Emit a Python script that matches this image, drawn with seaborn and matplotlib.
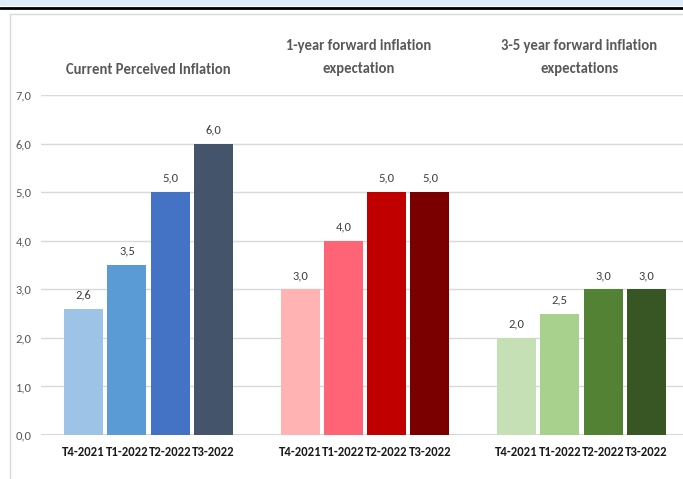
import matplotlib
matplotlib.use("Agg")
import matplotlib.pyplot as plt
from matplotlib import font_manager as fm
from matplotlib.lines import Line2D
from matplotlib.patches import Rectangle
import seaborn as sns
import pandas as pd

groups = ["Current Perceived Inflation",
          "1-year forward inflation\nexpectation",
          "3-5 year forward inflation\nexpectations"]
quarters = ["T4-2021", "T1-2022", "T2-2022", "T3-2022"]
current_perceived = [2.6, 3.5, 5.0, 6.0]
one_year_forward = [3.0, 4.0, 5.0, 5.0]
three_five_year_forward = [2.0, 2.5, 3.0, 3.0]
colors = [
    ["#9DC3E6", "#5B9BD5", "#4472C4", "#44546A"],
    ["#FFB3B3", "#FF6376", "#C00000", "#7A0000"],
    ["#C5E0B4", "#A9D18E", "#548235", "#375623"],
]

rows = []
for g, vals in zip(groups, [current_perceived, one_year_forward, three_five_year_forward]):
    for q, v in zip(quarters, vals):
        rows.append({"group": g, "quarter": q, "value": v})
df = pd.DataFrame(rows)

sns.set_theme(style="white")
available = set(f.name for f in fm.fontManager.ttflist)
chosen = "DejaVu Sans"
for cand in ["Carlito", "Liberation Sans Narrow", "Open Sans Condensed",
             "Roboto Condensed", "Fira Sans Condensed", "PT Sans Narrow",
             "Archivo Narrow", "DejaVu Sans Condensed"]:
    if cand in available:
        chosen = cand
        break
plt.rcParams["font.family"] = [chosen, "DejaVu Sans"]

W, H = 683, 479
fig = plt.figure(figsize=(W / 100, H / 100), dpi=100)
ax = fig.add_axes([41 / W, 44 / H, (W - 41) / W, (435 - 95) / H])

sns.barplot(data=df, x="group", y="value", hue="quarter", order=groups,
            hue_order=quarters, width=0.8, gap=0.1, legend=False, ax=ax,
            saturation=1, err_kws={"linewidth": 0})

for hi, cont in enumerate(ax.containers):
    for gi, bar in enumerate(cont):
        bar.set_facecolor(colors[gi][hi])
        bar.set_edgecolor("none")
        cx = bar.get_x() + bar.get_width() / 2
        h = bar.get_height()
        ax.annotate(f"{h:.1f}".replace(".", ","), (cx, h), xytext=(0, 6),
                    textcoords="offset points", ha="center", va="bottom",
                    fontsize=9, color="#404040")
        ax.annotate(quarters[hi], (cx, 0), xytext=(0, -8),
                    textcoords="offset points", ha="center", va="top",
                    fontsize=9.2, fontweight="bold", color="#1a1a1a")

ax.set_ylim(0, 7)
ax.set_xlim(-0.497, 2.469)
ax.set_yticks(range(0, 8))
ax.set_yticklabels([f"{v:.1f}".replace(".", ",") for v in range(0, 8)],
                   fontsize=9, color="#595959")
ax.tick_params(axis="y", length=0, pad=7)
ax.set_xticks([])
ax.set_xlabel("")
ax.set_ylabel("")
ax.yaxis.grid(True, color="#D9D9D9", linewidth=1)
ax.set_axisbelow(True)
for s in ax.spines.values():
    s.set_visible(False)
ax.axhline(0, color="#D0D0D0", linewidth=1.2, zorder=0.5)

# group titles
title_pos = [(0, 0.0, 70), (1, 0.97, 57.5), (2, 1.99, 57.5)]
for gi, xd, ypx in title_pos:
    xf = ax.transData.transform((xd, 0))[0] / W
    fig.text(xf, 1 - ypx / H, groups[gi], ha="center", va="center", fontsize=10.5,
             fontweight="bold", color="#595959", linespacing=1.85)

# top header strip and chart frame
fig.patches.append(Rectangle((0, 1 - 6 / H), 1, 6 / H, transform=fig.transFigure,
                             facecolor="#DDEBF7", edgecolor="none"))
fig.lines.append(Line2D([0, 1], [1 - 7.5 / H, 1 - 7.5 / H], transform=fig.transFigure,
                        color="black", linewidth=2))
fig.lines.append(Line2D([10 / W, 10 / W], [0, 1 - 14 / H], transform=fig.transFigure,
                        color="#D9D9D9", linewidth=1))
fig.lines.append(Line2D([10 / W, 1], [1 - 14 / H, 1 - 14 / H], transform=fig.transFigure,
                        color="#D9D9D9", linewidth=1))

fig.savefig("out.png", dpi=100)
